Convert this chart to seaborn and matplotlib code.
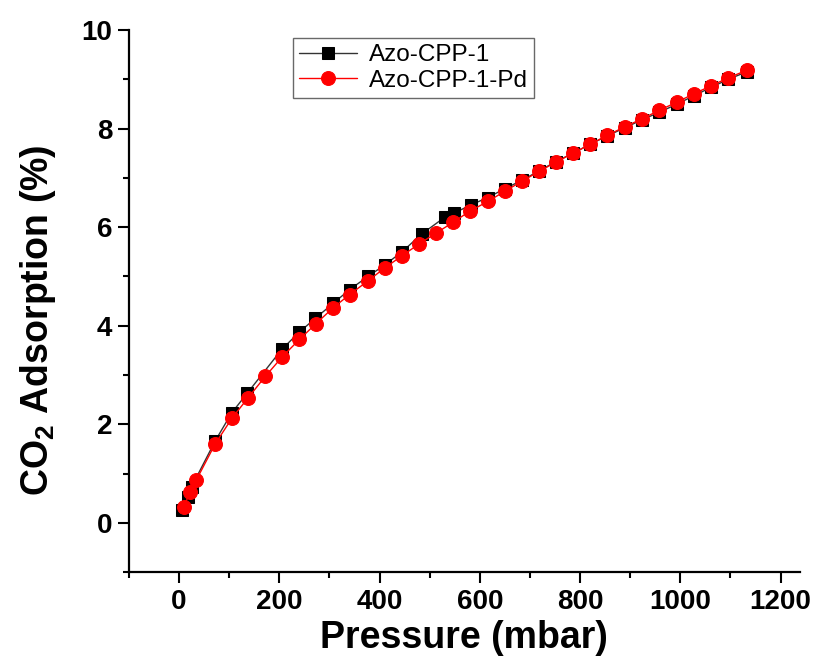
#!/usr/bin/env python3

import sys

import matplotlib
matplotlib.use("Agg")
import matplotlib.pyplot as plt
import numpy as np
import pandas as pd
import seaborn as sns
from matplotlib.ticker import MultipleLocator


FIGSIZE = (8.16, 6.66)

# Azo-CPP-1 (black squares)
pressure_cpp = [6, 17, 25, 72, 105, 136, 205, 240, 272, 307, 340, 377, 410, 445,
                484, 530, 548, 582, 616, 650, 684, 718, 752, 786, 820, 854, 890,
                924, 958, 994, 1028, 1062, 1096, 1132]
uptake_cpp = [0.27, 0.53, 0.73, 1.66, 2.23, 2.63, 3.52, 3.87, 4.15, 4.45, 4.73,
              5.00, 5.23, 5.50, 5.86, 6.20, 6.28, 6.45, 6.60, 6.78, 6.95, 7.14,
              7.33, 7.50, 7.68, 7.85, 8.02, 8.18, 8.33, 8.50, 8.67, 8.84, 9.00,
              9.15]

# Azo-CPP-1-Pd (red circles)
pressure_pd = [10, 22, 34, 72, 106, 138, 172, 206, 240, 273, 307, 340, 377, 410,
               445, 479, 513, 547, 581, 616, 650, 684, 718, 752, 786, 820, 854,
               890, 924, 958, 994, 1028, 1062, 1096, 1132]
uptake_pd = [0.33, 0.63, 0.86, 1.60, 2.13, 2.54, 2.97, 3.37, 3.72, 4.04, 4.36,
             4.63, 4.91, 5.17, 5.42, 5.66, 5.88, 6.10, 6.33, 6.52, 6.73, 6.93,
             7.13, 7.32, 7.50, 7.68, 7.86, 8.04, 8.20, 8.37, 8.54, 8.71, 8.87,
             9.03, 9.18]

series_names = ["Azo-CPP-1", "Azo-CPP-1-Pd"]


def eprint(*args, **kwargs):
    print(*args, file=sys.stderr, **kwargs)


def plot_co2_uptake(output_png):
    sns.set_style("ticks")
    plt.rcParams["font.family"] = ["Liberation Sans", "DejaVu Sans"]
    plt.rcParams["font.weight"] = "bold"
    plt.rcParams["text.color"] = "black"
    plt.rcParams["axes.labelcolor"] = "black"
    plt.rcParams["xtick.color"] = "black"
    plt.rcParams["ytick.color"] = "black"
    plt.rcParams["mathtext.fontset"] = "custom"
    plt.rcParams["mathtext.rm"] = "Liberation Sans:bold"
    plt.rcParams["mathtext.bf"] = "Liberation Sans:bold"

    df_cpp = pd.DataFrame({"pressure": pressure_cpp, "uptake": uptake_cpp})
    df_pd = pd.DataFrame({"pressure": pressure_pd, "uptake": uptake_pd})

    fig, ax = plt.subplots(figsize=FIGSIZE, dpi=100)

    sns.lineplot(data=df_cpp, x="pressure", y="uptake", ax=ax, estimator=None,
                 color="#333333", linewidth=1.0, marker="s", markersize=8,
                 markerfacecolor="black", markeredgecolor="black",
                 label=series_names[0])
    sns.lineplot(data=df_pd, x="pressure", y="uptake", ax=ax, estimator=None,
                 color="red", linewidth=1.0, marker="o", markersize=10,
                 markerfacecolor="red", markeredgecolor="red",
                 label=series_names[1])

    ax.set_xlim(-100, 1238)
    ax.set_ylim(-1, 10)
    ax.xaxis.set_major_locator(MultipleLocator(200))
    ax.xaxis.set_minor_locator(MultipleLocator(100))
    ax.yaxis.set_major_locator(MultipleLocator(2))
    ax.yaxis.set_minor_locator(MultipleLocator(1))

    ax.spines["top"].set_visible(False)
    ax.spines["right"].set_visible(False)
    for s in ("left", "bottom"):
        ax.spines[s].set_linewidth(1.6)
        ax.spines[s].set_color("black")

    ax.tick_params(which="major", direction="out", length=8, width=1.5,
                   color="black", labelsize=20, labelcolor="black", pad=4)
    ax.tick_params(which="minor", direction="out", length=4.5, width=1.5,
                   color="black")

    ax.set_xlabel("Pressure (mbar)", fontsize=27, fontweight="bold", labelpad=4)
    ax.set_ylabel(r"CO$_\mathbf{2}$ Adsorption (%)", fontsize=27,
                  fontweight="bold")
    ax.yaxis.set_label_coords(-0.105, 0.465)

    leg = ax.legend(loc="upper left", bbox_to_anchor=(0.244, 0.985),
                    borderaxespad=0, prop={"size": 17.5, "weight": "normal"},
                    frameon=True, fancybox=False, handlelength=2.4,
                    borderpad=0.25, labelspacing=0.15, handletextpad=0.5)
    leg.get_frame().set_edgecolor("#444444")
    leg.get_frame().set_linewidth(1.0)

    fig.subplots_adjust(left=0.158, right=0.980, top=0.955, bottom=0.141)

    fig.savefig(output_png, dpi=100)
    eprint(f"Figure saved to '{output_png}'.")
    plt.close(fig)


if __name__ == '__main__':
    plot_co2_uptake("out.png")
